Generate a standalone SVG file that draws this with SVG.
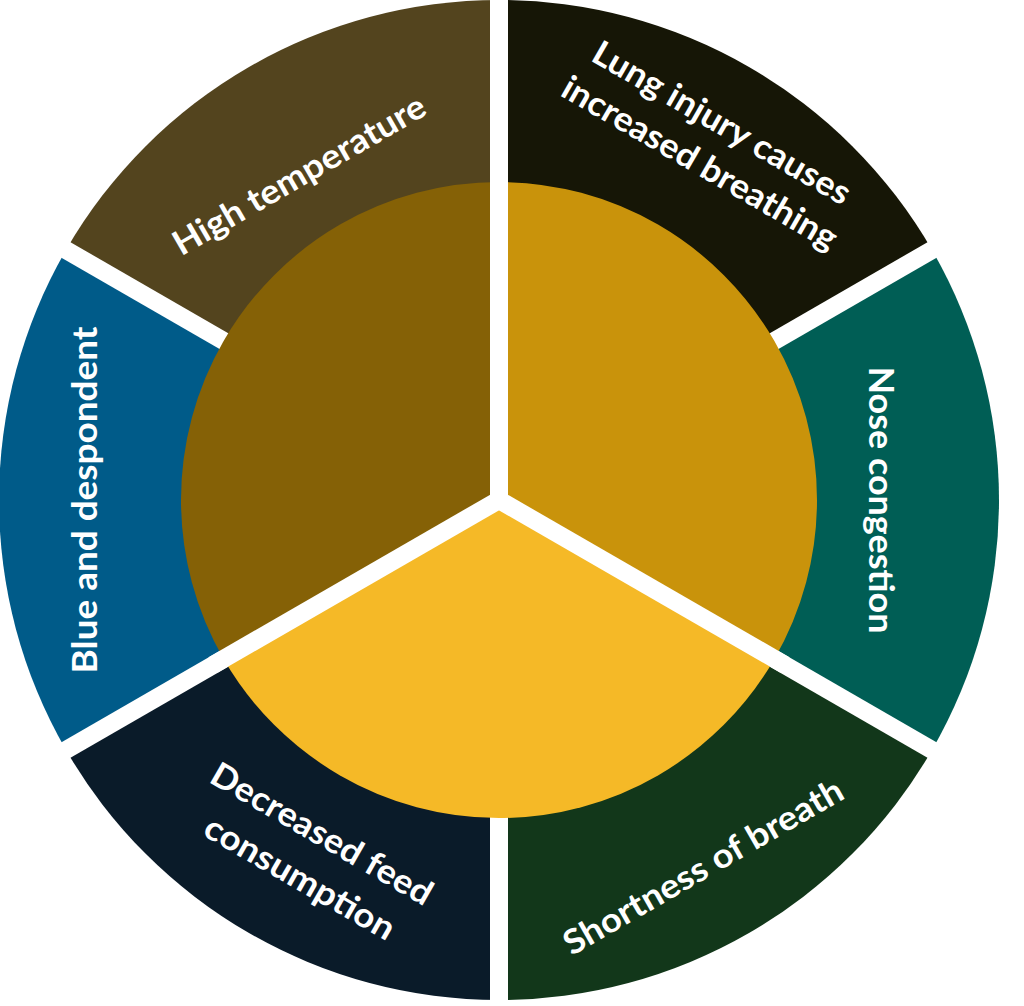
<svg xmlns="http://www.w3.org/2000/svg" width="1024" height="1006" viewBox="0 0 1024 1006">
  <style>
    .lbl { font-family: Lato, "Open Sans", "Liberation Sans", sans-serif; font-weight: 700; font-size: 34px; fill: #ffffff; text-anchor: middle; }
    .sep { stroke: #ffffff; stroke-width: 18; stroke-linecap: butt; fill: none; }
  </style>
  <rect x="0" y="0" width="1024" height="1006" fill="#ffffff"/>

  <g id="outer-segments">
    <g id="node-lung-injury">
      <path d="M499,500 L932.01,250 A500,500 0 0 0 499,0 Z" fill="#161606"/>
    </g>
    <g id="node-high-temperature">
      <path d="M499,500 L499,0 A500,500 0 0 0 65.99,250 Z" fill="#53441E"/>
    </g>
    <g id="node-blue-despondent">
      <path d="M499,500 L65.99,250 A500,500 0 0 0 65.99,750 Z" fill="#005B89"/>
    </g>
    <g id="node-decreased-feed">
      <path d="M499,500 L65.99,750 A500,500 0 0 0 499,1000 Z" fill="#0A1B29"/>
    </g>
    <g id="node-shortness-breath">
      <path d="M499,500 L499,1000 A500,500 0 0 0 932.01,750 Z" fill="#12371A"/>
    </g>
    <g id="node-nose-congestion">
      <path d="M499,500 L932.01,750 A500,500 0 0 0 932.01,250 Z" fill="#005E55"/>
    </g>
  </g>

  <g id="outer-separators">
    <line class="sep" x1="499" y1="500" x2="499" y2="-12"/>
    <line class="sep" x1="499" y1="500" x2="942.4" y2="244"/>
    <line class="sep" x1="499" y1="500" x2="942.4" y2="756"/>
    <line class="sep" x1="499" y1="500" x2="499" y2="1012"/>
    <line class="sep" x1="499" y1="500" x2="55.6" y2="756"/>
    <line class="sep" x1="499" y1="500" x2="55.6" y2="244"/>
  </g>

  <g id="inner-segments">
    <g id="node-inner-upper-right">
      <path d="M499,500 L774.4,659 A318,318 0 0 0 499,182 Z" fill="#C9930B"/>
    </g>
    <g id="node-inner-upper-left">
      <path d="M499,500 L499,182 A318,318 0 0 0 223.6,659 Z" fill="#856106"/>
    </g>
    <g id="node-inner-bottom">
      <path d="M499,500 L223.6,659 A318,318 0 0 0 774.4,659 Z" fill="#F5B927"/>
    </g>
  </g>

  <g id="inner-separators">
    <line class="sep" x1="499" y1="500" x2="499" y2="170"/>
    <line class="sep" x1="499" y1="500" x2="213" y2="665"/>
    <line class="sep" x1="499" y1="500" x2="785" y2="665"/>
  </g>

  <g id="connectors"></g>

  <g id="labels">
    <text class="lbl" transform="translate(305,185) rotate(-30)" textLength="286" lengthAdjust="spacingAndGlyphs">High temperature</text>
    <text class="lbl" transform="translate(716,133) rotate(30)" textLength="292" lengthAdjust="spacingAndGlyphs">Lung injury causes</text>
    <text class="lbl" transform="translate(694,173) rotate(30)" textLength="312" lengthAdjust="spacingAndGlyphs">increased breathing</text>
    <text class="lbl" transform="translate(869,500) rotate(90)" textLength="267" lengthAdjust="spacingAndGlyphs">Nose congestion</text>
    <text class="lbl" transform="translate(709,877) rotate(-30)" textLength="317" lengthAdjust="spacingAndGlyphs">Shortness of breath</text>
    <text class="lbl" transform="translate(316,844) rotate(30)" textLength="250" lengthAdjust="spacingAndGlyphs">Decreased feed</text>
    <text class="lbl" transform="translate(294,888) rotate(30)" textLength="214" lengthAdjust="spacingAndGlyphs">consumption</text>
    <text class="lbl" transform="translate(97,500) rotate(-90)" textLength="347" lengthAdjust="spacingAndGlyphs">Blue and despondent</text>
  </g>
</svg>
